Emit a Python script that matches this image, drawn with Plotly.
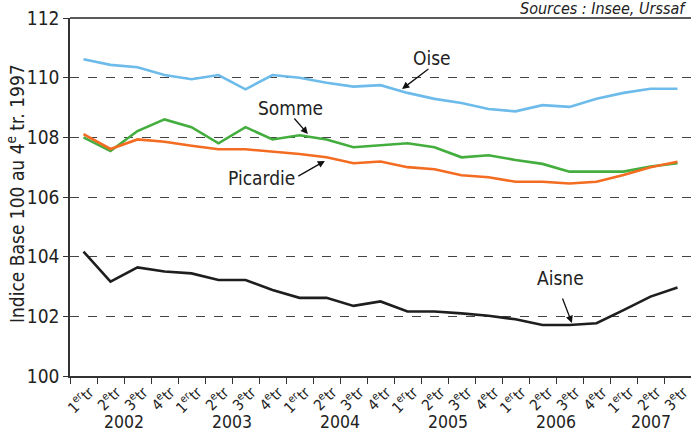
import plotly.graph_objects as go

quarters = ["1<sup>er</sup>tr", "2<sup>e</sup>tr", "3<sup>e</sup>tr", "4<sup>e</sup>tr"] * 5 + ["1<sup>er</sup>tr", "2<sup>e</sup>tr", "3<sup>e</sup>tr"]
years = ["2002", "2003", "2004", "2005", "2006", "2007"]
year_pos = [1.5, 5.5, 9.5, 13.5, 17.5, 21]

oise = [110.62, 110.43, 110.35, 110.09, 109.95, 110.09, 109.61, 110.09, 110.0, 109.83, 109.70, 109.75,
        109.49, 109.29, 109.15, 108.95, 108.87, 109.08, 109.02, 109.29, 109.49, 109.63, 109.63]
somme = [108.0, 107.54, 108.21, 108.6, 108.34, 107.80, 108.34, 107.93, 108.07, 107.93, 107.67, 107.74,
         107.80, 107.67, 107.33, 107.40, 107.24, 107.11, 106.85, 106.85, 106.85, 107.02, 107.13]
picardie = [108.11, 107.61, 107.93, 107.85, 107.72, 107.60, 107.60, 107.52, 107.44, 107.33, 107.13, 107.19,
            107.0, 106.93, 106.73, 106.66, 106.51, 106.51, 106.45, 106.51, 106.74, 107.0, 107.18]
aisne = [104.17, 103.16, 103.64, 103.50, 103.44, 103.22, 103.22, 102.88, 102.62, 102.62, 102.35, 102.50,
         102.16, 102.16, 102.10, 102.02, 101.90, 101.71, 101.71, 101.77, 102.21, 102.66, 102.97]

x = list(range(len(quarters)))
FONT = "DejaVu Sans Condensed, Liberation Sans Narrow, sans-serif"

fig = go.Figure()
for name, vals, col in [("Oise", oise, "#6dbbea"), ("Somme", somme, "#43ad3e"),
                        ("Picardie", picardie, "#f36c21"), ("Aisne", aisne, "#1e1e1e")]:
    fig.add_trace(go.Scatter(x=x, y=vals, mode="lines", name=name,
                             line=dict(color=col, width=2.6), showlegend=False))

labels = [
    ("Oise", (12.9, 110.66), (12.83, 110.33), (11.8, 109.62)),
    ("Somme", (7.65, 108.98), (7.76, 108.68), (8.31, 108.11)),
    ("Picardie", (6.61, 106.64), (7.9, 106.67), (8.94, 107.21)),
    ("Aisne", (17.65, 103.29), (17.72, 102.65), (18.09, 101.78)),
]
for txt, tp, tail, head in labels:
    fig.add_annotation(x=tp[0], y=tp[1], text=txt, showarrow=False,
                       font=dict(family=FONT, size=19, color="#222"))
    fig.add_annotation(x=head[0], y=head[1], ax=tail[0], ay=tail[1], axref="x", ayref="y",
                       text="", showarrow=True, arrowhead=2, arrowsize=1.1, arrowwidth=1.3,
                       arrowcolor="#111")

for yr, p in zip(years, year_pos):
    fig.add_annotation(x=p, y=-0.128, yref="paper", text=yr, showarrow=False,
                       yanchor="middle", font=dict(family=FONT, size=17.5, color="#222"))

# y axis title as rotated annotation
fig.add_annotation(x=-0.087, xref="paper", y=0.511, yref="paper", textangle=-90,
                   text="Indice Base 100 au 4<sup>e</sup> tr. 1997", showarrow=False,
                   xanchor="center", yanchor="middle",
                   font=dict(family=FONT, size=19, color="#222"))

fig.add_annotation(x=1, xref="paper", xanchor="right", xshift=-3, y=1.0, yref="paper", yanchor="bottom",
                   yshift=-2, text="<i>Sources : Insee, Urssaf</i>", showarrow=False,
                   font=dict(family=FONT, size=16, color="#222"))

fig.add_shape(type="line", xref="paper", yref="paper", x0=0, x1=1, y0=1, y1=1,
              line=dict(color="#222", width=1.5))

fig.update_xaxes(range=[-0.5, len(quarters) - 0.5], tickmode="array", tickvals=x, ticktext=quarters,
                 tickangle=-45, ticks="", showgrid=False, zeroline=False, automargin=False,
                 showline=True, linecolor="#333", linewidth=1.5, ticklabelshift=6,
                 ticklabeloverflow="allow",
                 tickfont=dict(family=FONT, size=15, color="#222"),
                 minor=dict(tickmode="array", tickvals=[i - 0.5 for i in range(len(quarters) + 1)],
                            ticks="outside", ticklen=6, tickcolor="#333", tickwidth=1, showgrid=False))
fig.update_yaxes(range=[100, 112], dtick=2, ticks="outside", ticklen=5, tickcolor="#333",
                 showline=True, linecolor="#333", linewidth=1.5, zeroline=False, automargin=False,
                 showgrid=True, gridcolor="#444", griddash="dash", gridwidth=1,
                 tickfont=dict(family=FONT, size=19, color="#222"))

fig.update_layout(width=691, height=432, margin=dict(l=70, r=0, t=18, b=56),
                  plot_bgcolor="white", paper_bgcolor="white")

fig.write_html("out.html", config={"displayModeBar": False},
               post_script="document.body.style.margin='0';")
